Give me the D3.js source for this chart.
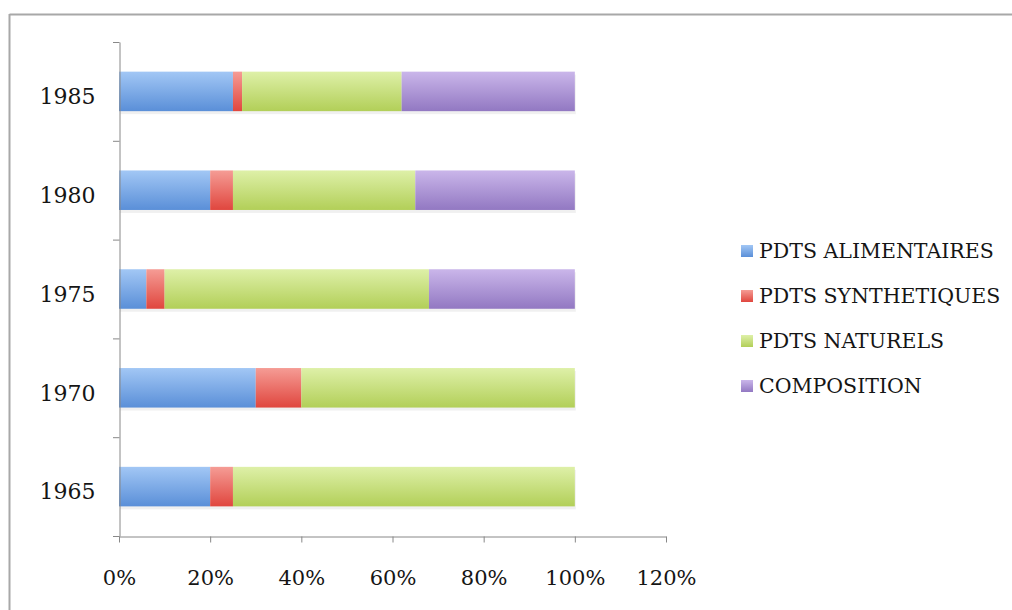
<!DOCTYPE html>
<html><head><meta charset="utf-8">
<script src="https://cdn.jsdelivr.net/npm/d3@7"></script>
<style>body{margin:0;background:#fff}svg{display:block}</style>
</head><body><svg id="c" width="1012" height="610"></svg>
<script>
const years = ["1965","1970","1975","1980","1985"];
const series = ["PDTS ALIMENTAIRES","PDTS SYNTHETIQUES","PDTS NATURELS","COMPOSITION"];
const alimentaires = [0.20,0.30,0.06,0.20,0.25];
const synthetiques = [0.05,0.10,0.04,0.05,0.02];
const naturels     = [0.75,0.60,0.58,0.40,0.35];
const composition  = [0.00,0.00,0.32,0.35,0.38];
const xTicks = [0,0.2,0.4,0.6,0.8,1.0,1.2];
const colorsTop = ["#a2c7f5","#f59c95","#def0a8","#cab6ea"];
const colorsBot = ["#5a8fd8","#e0463e","#b2cf58","#9278c2"];

const svg = d3.select("#c");
const font = "DejaVu Serif";
const defs = svg.append("defs");
series.forEach((s,i)=>{
  const g = defs.append("linearGradient").attr("id","g"+i).attr("x1",0).attr("y1",0).attr("x2",0).attr("y2",1);
  g.append("stop").attr("offset","0%").attr("stop-color",colorsTop[i]);
  g.append("stop").attr("offset","100%").attr("stop-color",colorsBot[i]);
});

// frame
svg.append("line").attr("x1",9.5).attr("x2",1012).attr("y1",14.5).attr("y2",14.5).attr("stroke","#a8a8a8").attr("stroke-width",2);
svg.append("line").attr("x1",9.5).attr("x2",9.5).attr("y1",14).attr("y2",610).attr("stroke","#a8a8a8").attr("stroke-width",2);

const x = d3.scaleLinear().domain([0,1.2]).range([119,666]);
const y = d3.scaleBand().domain(years.slice().reverse()).range([42,536]).paddingInner(0.6).paddingOuter(0.3);

const data = years.map((yr,i)=>({year:yr, "PDTS ALIMENTAIRES":alimentaires[i],"PDTS SYNTHETIQUES":synthetiques[i],"PDTS NATURELS":naturels[i],"COMPOSITION":composition[i]}));
const stacked = d3.stack().keys(series)(data);

// shadow
svg.append("g").selectAll("rect").data(data).join("rect")
  .attr("x",d=>x(0)+1).attr("y",d=>y(d.year)+3)
  .attr("width",d=>x(1)-x(0)).attr("height",y.bandwidth())
  .attr("fill","#000").attr("opacity",0.06);

stacked.forEach((layer,i)=>{
  svg.append("g").selectAll("rect").data(layer).join("rect")
    .attr("x",d=>x(d[0])).attr("y",d=>y(d.data.year))
    .attr("width",d=>Math.max(0,x(d[1])-x(d[0]))).attr("height",y.bandwidth())
    .attr("fill","url(#g"+i+")");
});

// x axis
const xa = svg.append("g").attr("transform","translate(0,536.5)")
  .call(d3.axisBottom(x).tickValues(xTicks).tickFormat(d3.format(".0%")).tickSize(6).tickSizeOuter(0));
xa.select(".domain").attr("stroke","#888");
xa.selectAll(".tick line").attr("stroke","#888");
xa.selectAll("text").attr("font-family",font).attr("font-size",21).attr("fill","#151515").attr("y",34);

// y axis
const ya = svg.append("g").attr("transform","translate(119.5,0)")
  .call(d3.axisLeft(y).tickSize(0).tickSizeOuter(0));
ya.select(".domain").attr("stroke","#888");
ya.selectAll("text").attr("font-family",font).attr("font-size",22).attr("fill","#151515").attr("x",-24).attr("dy","0.58em");
const bounds = d3.range(years.length+1).map(i=>42 + i*(536-42)/years.length);
svg.append("g").selectAll("line").data(bounds).join("line")
  .attr("x1",113).attr("x2",119.5).attr("y1",d=>d+0.5).attr("y2",d=>d+0.5).attr("stroke","#888");

// legend
const lg = svg.append("g").attr("transform","translate(741,251)");
series.forEach((s,i)=>{
  const r = lg.append("g").attr("transform",`translate(0,${i*45})`);
  r.append("rect").attr("x",0).attr("y",-6).attr("width",12).attr("height",12).attr("fill","url(#g"+i+")");
  r.append("text").attr("x",18).attr("y",0).attr("dy","0.36em").attr("font-family",font).attr("font-size",20.5).attr("fill","#151515").text(s);
});
</script></body></html>
